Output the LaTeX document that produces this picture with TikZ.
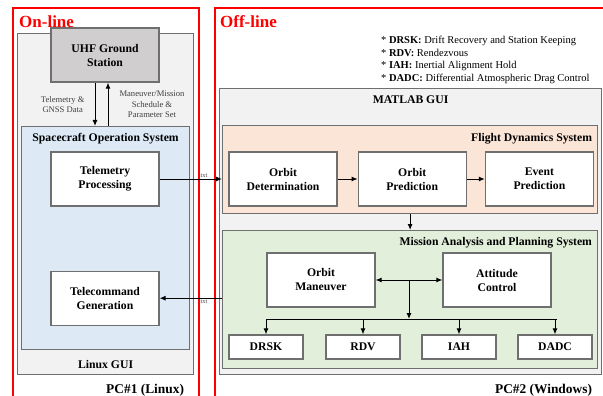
\documentclass[tikz,border=0pt]{standalone}
\usepackage{fontspec}
\setmainfont{Liberation Serif}
\usepackage{xcolor}
\usepackage{tikz}
\usetikzlibrary{positioning,arrows.meta,calc}

\definecolor{uhfgray}{HTML}{D0CECE}
\definecolor{sosblue}{HTML}{DDEAF6}
\definecolor{fdspeach}{HTML}{FBE5D6}
\definecolor{mapsgreen}{HTML}{E2EFDA}
\definecolor{guigray}{HTML}{F2F2F2}
\definecolor{edgegray}{HTML}{6F6F6F}

\begin{document}
\begin{tikzpicture}[
  x=1pt,y=-1pt,
  font=\fontsize{11.7}{14}\selectfont\bfseries,
  >={Latex[length=6pt,width=5pt]},
  zone/.style  ={draw=red,line width=1.6pt,anchor=north west,inner sep=0pt},
  zttl/.style  ={text=red,font=\fontsize{17}{20}\selectfont\bfseries,
                 inner sep=0pt,anchor=west},
  grp/.style   ={draw=edgegray,line width=1.2pt,anchor=north west,inner sep=0pt},
  wbox/.style  ={draw=edgegray,line width=1.2pt,fill=white,align=center,
                 minimum width=108pt,minimum height=54pt,inner sep=2pt},
  sbox/.style  ={wbox,minimum width=74pt,minimum height=24pt},
  ttl/.style   ={inner sep=0pt},
  pcttl/.style ={inner sep=0pt,anchor=base east,
                 font=\fontsize{13.4}{16}\selectfont\bfseries},
  flow/.style  ={->,line width=1pt,draw=black},
  lbl/.style   ={font=\fontsize{8.6}{10.3}\selectfont\mdseries,
                 text=black!75,align=center,inner sep=0pt},
  ftxt/.style  ={font=\fontsize{6.5}{8}\selectfont\mdseries,
                 text=black!70,inner sep=1pt},
  notes/.style ={font=\fontsize{10.5}{12.5}\selectfont\mdseries,
                 align=left,inner sep=0pt,anchor=north west},
]

\path[use as bounding box,fill=white] (0,0) rectangle (603,396);
\clip (0,0) rectangle (603,396);

% ===================== On-line / Off-line zones ===========================
\node[zone,minimum width=186pt,minimum height=400pt] (online)  at (12,7)  {};
\node[zone,minimum width=400pt,minimum height=400pt] (offline) at (214,7) {};
\node[zttl] (onttl)  at (19,22)  {On-line};
\node[zttl] (offttl) at (220,22) {Off-line};

% ===================== PC#1: Linux side ==================================
\node[grp,fill=guigray,minimum width=176pt,minimum height=341pt] (linuxgui) at (17,33)  {};
\node[grp,fill=sosblue,minimum width=168pt,minimum height=223pt] (sos)      at (21,126) {};

\node[ttl,below=7pt of sos.north]      (sosttl)   {Spacecraft Operation System};
\node[ttl,above=6pt of linuxgui.south] (linuxttl) {Linux GUI};
\node[pcttl] (pc1) at ([xshift=-10pt,yshift=-18pt]linuxgui.south east) {PC\#1 (Linux)};

\node[wbox,fill=uhfgray] (uhf) at (105,55)  {UHF Ground\\Station};
\node[wbox]              (tp)  at (105,179) {Telemetry\\Processing};
\node[wbox,below=64pt of tp] (tcg) {Telecommand\\Generation};

% uplink / downlink between ground station and operation system
\draw[flow] ([xshift=-10pt]uhf.south) -- ([xshift=-10pt]uhf.south |- sos.north)
  node[lbl,midway,left=10pt] {Telemetry \&\\GNSS Data};
\draw[flow] ([xshift=3pt]uhf.south |- sos.north) -- ([xshift=3pt]uhf.south)
  node[lbl,midway,right=11pt] {Maneuver/Mission\\Schedule \&\\Parameter Set};

% ===================== PC#2: Windows side ================================
\node[notes] (legend) at (381,36)
  {* \textbf{DRSK:} Drift Recovery and Station Keeping\\
   * \textbf{RDV:} Rendezvous\\
   * \textbf{IAH:} Inertial Alignment Hold\\
   * \textbf{DADC:} Differential Atmospheric Drag Control};

\node[grp,fill=guigray,minimum width=382pt,minimum height=286pt] (matlab) at (219,88)  {};
\node[grp,fill=fdspeach,minimum width=375pt,minimum height=88pt] (fds)    at (222,125) {};
\node[grp,fill=mapsgreen,minimum width=375pt,minimum height=138pt] (maps) at (222,230) {};

\node[ttl,below=8pt of matlab.north] (matlabttl) {MATLAB GUI};
\node[ttl,below left=8pt and 6pt of fds.north east]  (fdsttl)  {Flight Dynamics System};
\node[ttl,below left=7pt and 6pt of maps.north east] (mapsttl) {Mission Analysis and Planning System};
\node[pcttl] (pc2) at ([xshift=-10pt,yshift=-18pt]matlab.south east) {PC\#2 (Windows)};

% flight dynamics chain
\node[wbox]                   (od) at (283,179) {Orbit\\Determination};
\node[wbox,right=20pt of od]  (op) {Orbit\\Prediction};
\node[wbox,right=18pt of op]  (ep) {Event\\Prediction};
\draw[flow] (od) -- (op);
\draw[flow] (op) -- (ep);
\draw[flow] (fds.south) -- (maps.north);

% mission analysis and planning
\node[wbox] (om) at (321,280) {Orbit\\Maneuver};
\node[wbox] (ac) at (497,280) {Attitude\\Control};
\foreach \nm/\txt/\x in {drsk/DRSK/266,rdv/RDV/363,iah/IAH/459,dadc/DADC/555}
  \node[sbox] (\nm) at (\x,347) {\txt};

\draw[flow,<->] (om) -- (ac);
\coordinate (hub) at ($(om.east)!0.5!(ac.west)$);
\coordinate (bus) at ([yshift=-39pt]hub);
\draw[flow] (hub) -- (bus);
\draw[line width=1pt] (bus -| drsk) -- ([xshift=2pt]bus -| dadc);
\foreach \nm in {drsk,rdv,iah,dadc}
  \draw[flow] (bus -| \nm) -- (\nm.north);

% ===================== file exchange between the two PCs =================
\draw[flow] (tp.east) -- (tp.east -| fds.west)
  node[ftxt,pos=0.7,above] {.txt};
\draw[flow] (tcg.east -| maps.west) -- (tcg.east)
  node[ftxt,pos=0.3,below] {.txt};

\end{tikzpicture}
\end{document}
